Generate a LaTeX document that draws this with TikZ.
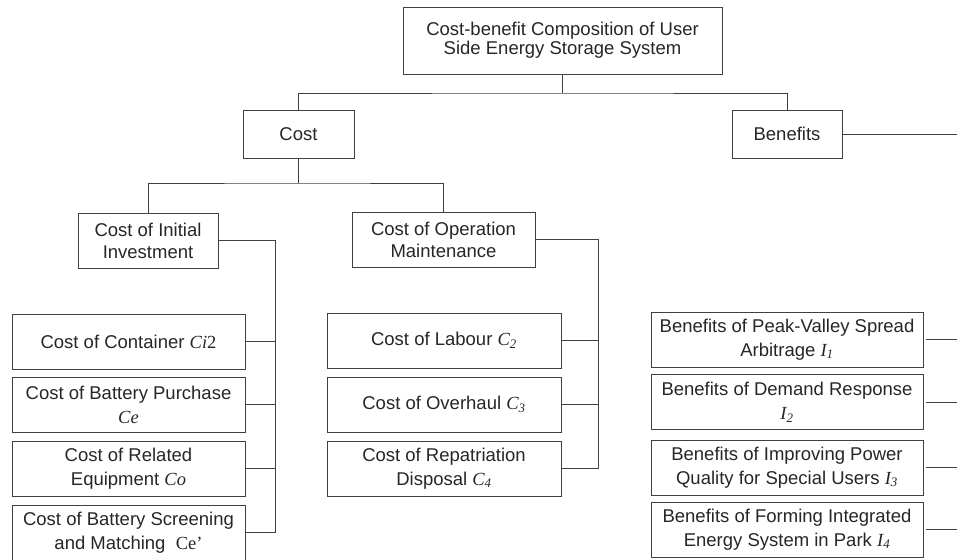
\documentclass[tikz,border=0pt]{standalone}
\usepackage{fontspec}
\setmainfont{Liberation Sans}
\newfontfamily\tms{Liberation Serif}
\usepackage{tikz}

% symbols are set in a serif italic
\newcommand{\vname}[1]{{\tms\itshape #1}}
\newcommand{\vsub}[2]{\vname{#1}\textsubscript{\vname{#2}}}

\begin{document}
\begin{tikzpicture}[x=1pt, y=-1pt,
        box/.style={draw=black!75, line width=0.9pt, align=center, inner sep=0pt,
            text=black!85, font=\fontsize{18.5}{22}\selectfont},
        leaf/.style={box, minimum height=55pt, font=\fontsize{18.5}{24}\selectfont},
        link/.style={draw=black!75, line width=0.9pt}]
        \useasboundingbox (0,0) rectangle (957,559);
        % upper levels
        \node [box, minimum width=319pt, minimum height=67pt, font=\fontsize{18.5}{19}\selectfont] (root) at (562.5,40.5)
            {Cost-benefit Composition of User\\Side Energy Storage System};
        \node [box, minimum width=111pt, minimum height=48pt] (cost) at (298.5,134) {Cost};
        \node [box, minimum width=110pt, minimum height=48pt] (benefits) at (787,134) {Benefits};
        \node [box, minimum width=140pt, minimum height=55pt] (init) at (148,240.5) {Cost of Initial\\Investment};
        \node [box, minimum width=183pt, minimum height=55pt] (oper) at (443.5,239.5) {Cost of Operation\\Maintenance};
        \coordinate (top bar) at (562.5,93);
        \coordinate (cost bar) at (298.5,183);
        \coordinate (ispine) at (275,238);
        \coordinate (ospine) at (598,238);
        \coordinate (edge) at (957,0);
        \draw [link] (root.south) -- (top bar);
        \draw [link] (cost.north) |- (top bar) -| (benefits.north);
        \draw [link] (cost.south) -- (cost bar);
        \draw [link] (init.north) |- (cost bar) -| (oper.north);
        \draw [link] (benefits.east) -- (benefits.east -| edge);
        % initial investment
        \foreach \i/\y/\txt in {1/341.5/{Cost of Container \vname{Ci}{\tms 2}},
                2/404.5/{Cost of Battery Purchase\\\vname{Ce}},
                3/468.5/{Cost of Related\\Equipment \vname{Co}},
                4/532.5/{Cost of Battery Screening\\and Matching\ \ {\tms Ce’}}} {
            \node [leaf, minimum width=233pt] (c\i) at (128.5,\y) {\txt};
            \draw [link] (c\i.east) -- (c\i.east -| ispine);
        }
        \draw [link] (init.east) -| (c4.east -| ispine);
        % operation and maintenance
        \foreach \i/\y/\txt in {1/340.5/{Cost of Labour \vsub{C}{2}},
                2/404.5/{Cost of Overhaul \vsub{C}{3}},
                3/468.5/{Cost of Repatriation\\Disposal \vsub{C}{4}}} {
            \node [leaf, minimum width=234pt] (o\i) at (444,\y) {\txt};
            \draw [link] (o\i.east) -- (o\i.east -| ospine);
        }
        \draw [link] (oper.east) -| (o3.east -| ospine);
        % benefits
        \foreach \i/\y/\txt in {1/339.5/{Benefits of Peak-Valley Spread\\Arbitrage \vsub{I}{1}},
                2/402/{Benefits of Demand Response\\\vsub{I}{2}},
                3/467.5/{Benefits of Improving Power\\Quality for Special Users \vsub{I}{3}},
                4/529.5/{Benefits of Forming Integrated\\Energy System in Park \vsub{I}{4}}} {
            \node [leaf, minimum width=272pt] (b\i) at (787,\y) {\txt};
            \draw [link, shorten <=3pt] (b\i.east) -- (b\i.east -| edge);
        }
\end{tikzpicture}
\end{document}
